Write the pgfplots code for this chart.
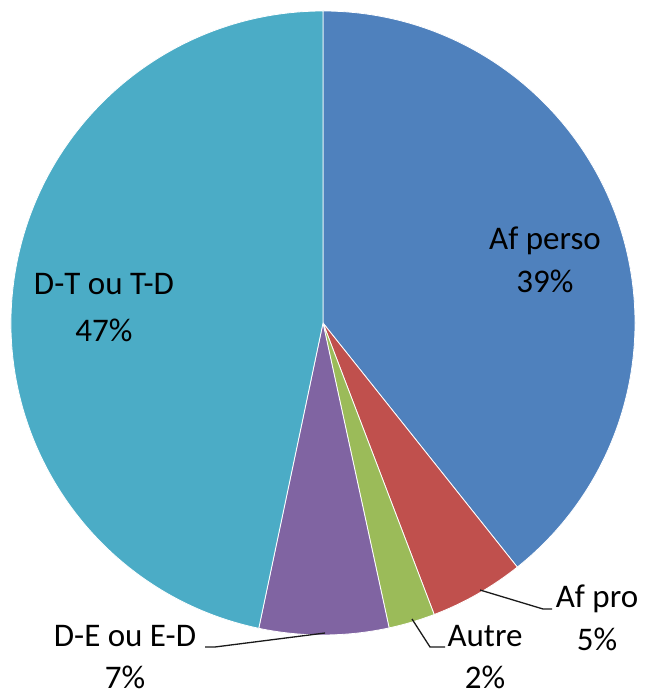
\documentclass[border=0pt]{standalone}
\usepackage{pgfplots}
\usepackage{pgfplotstable}
\usepackage{fontspec}
\setmainfont{Carlito}
\pgfplotsset{compat=1.18}

\definecolor{cPerso}{HTML}{4F81BD}
\definecolor{cPro}{HTML}{C0504D}
\definecolor{cAutre}{HTML}{9BBB59}
\definecolor{cDE}{HTML}{8064A2}
\definecolor{cDT}{HTML}{4BACC6}
\definecolor{lead}{HTML}{1A1A1A}

% parts in percent, clockwise from 12 o'clock
\pgfplotstableread{
pct   col
39.3  cPerso
4.9   cPro
2.4   cAutre
6.7   cDE
46.7  cDT
}\slices

\begin{document}
\begin{tikzpicture}
\begin{axis}[
    scale only axis,
    width=322pt, height=348pt,
    xmin=0, xmax=644, ymin=0, ymax=696,
    hide axis, clip=false,
]
\pgfmathsetmacro\angcur{90}
\pgfplotsinvokeforeach{0,...,4}{
  \pgfplotstablegetelem{#1}{pct}\of\slices \let\p\pgfplotsretval
  \pgfplotstablegetelem{#1}{col}\of\slices \let\cc\pgfplotsretval
  \pgfmathsetmacro\angnext{\angcur-3.6*\p}
  \edef\temp{\noexpand\fill[\cc, draw=white, line width=0.4pt, line join=round]
    (axis cs:323,373) -- ++(\angcur:156pt)
    arc[start angle=\angcur, end angle=\angnext, radius=156pt] -- cycle;}
  \temp
  \global\let\angcur\angnext
}

% leader lines
\draw[lead, line width=0.65pt] (axis cs:480,106) -- (axis cs:543,87) -- (axis cs:552,87);
\draw[lead, line width=0.65pt] (axis cs:412,77) -- (axis cs:430,49) -- (axis cs:445,49);
\draw[lead, line width=0.65pt] (axis cs:325,63) -- (axis cs:215,49) -- (axis cs:205,49);

% labels
\tikzset{lbl/.style={anchor=base, inner sep=0pt, text=black,
  font=\fontsize{16.5}{19.8}\selectfont}}
\node[lbl] at (axis cs:545,446) {Af perso};
\node[lbl] at (axis cs:545,403) {39\%};
\node[lbl] at (axis cs:104,401) {D-T ou T-D};
\node[lbl] at (axis cs:104,354) {47\%};
\node[lbl] at (axis cs:597,88) {Af pro};
\node[lbl] at (axis cs:597,46) {5\%};
\node[lbl] at (axis cs:485,49) {Autre};
\node[lbl] at (axis cs:485,8) {2\%};
\node[lbl] at (axis cs:125,49) {D-E ou E-D};
\node[lbl] at (axis cs:125,8) {7\%};
\end{axis}
\pgfresetboundingbox
\path (0,0) rectangle (322pt,348pt);
\end{tikzpicture}
\end{document}
